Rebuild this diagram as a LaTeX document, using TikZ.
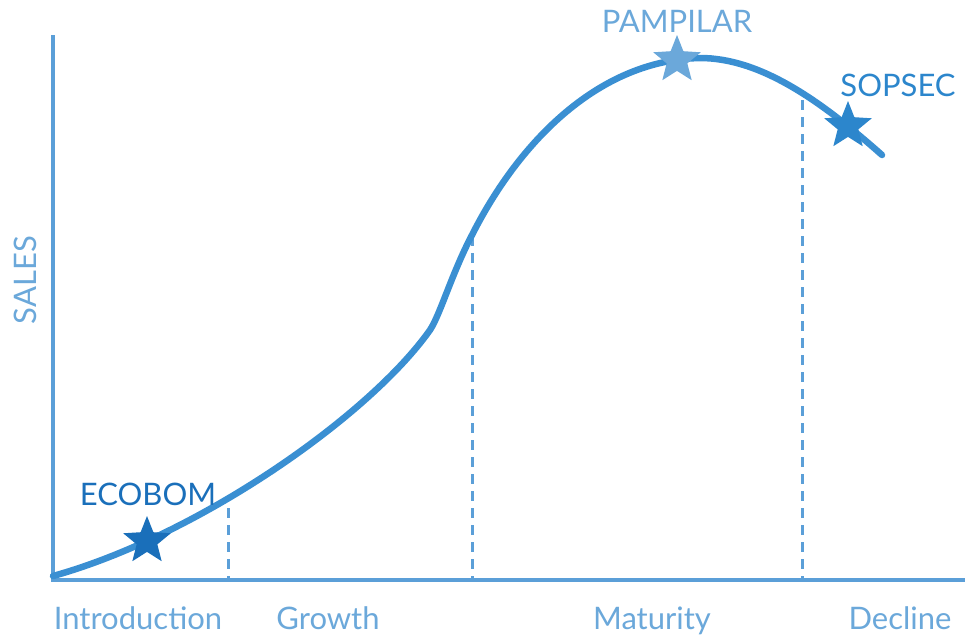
\documentclass[tikz,border=0pt]{standalone}
\usepackage{fontspec}
\setmainfont{Lato}
\usetikzlibrary{shapes.geometric}
\definecolor{axisblue}{HTML}{5B9FD8}
\definecolor{curveblue}{HTML}{3A8FD2}
\definecolor{labblue}{HTML}{6BA8DA}
\definecolor{darkblue}{HTML}{1A6FBA}
\definecolor{midblue}{HTML}{2C86CC}
\tikzset{
  axisline/.style={draw=axisblue, line width=3.2pt},
  guide/.style={draw=axisblue, line width=3pt, dash pattern=on 10pt off 7pt},
  curve/.style={draw=curveblue, line width=6.5pt, line cap=round},
  stage/.style={text=labblue, font=\fontsize{31}{34}\selectfont, inner sep=0pt, anchor=base},
  prod/.style={font=\fontsize{31}{34}\selectfont, inner sep=0pt, anchor=base},
  mark star/.style={star, star points=5, star point ratio=2.3, minimum size=50pt, inner sep=0pt, draw=none}
}
\begin{document}
\begin{tikzpicture}[x=1pt, y=-1pt]
\useasboundingbox (0,0) rectangle (965,638);
% axes
\coordinate (ytop) at (53,35);
\coordinate (origin) at (53,580);
\coordinate (xend) at (965,580);
\draw[axisline] (ytop) -- (origin) -- (xend);
% guides
\coordinate (g1t) at (228,508); \coordinate (g1b) at (228,580);
\coordinate (g2t) at (472,236); \coordinate (g2b) at (472,580);
\coordinate (g3t) at (802,100); \coordinate (g3b) at (802,580);
\draw[guide] (g1t) -- (g1b);
\draw[guide] (g2t) -- (g2b);
\draw[guide] (g3t) -- (g3b);
% curve
\coordinate (c0) at (53,576);
\coordinate (c1) at (430,330);
\coordinate (c2) at (472,235);
\coordinate (c3) at (700,58);
\coordinate (c4) at (882,155);
\draw[curve] (c0) .. controls (200,535) and (370,415) .. (c1)
  .. controls (440,315) and (452,273) .. (c2)
  .. controls (520,140) and (600,60) .. (c3)
  .. controls (760,58) and (820,100) .. (c4);
% stars
\node[mark star, fill=darkblue] (s1) at (147,541) {};
\node[mark star, fill=labblue] (s2) at (677,60) {};
\node[mark star, fill=midblue] (s3) at (848,126) {};
% product labels
\node[prod, text=darkblue] (ecobom) at (148,505) {ECOBOM};
\node[prod, text=labblue] (pampilar) at (677,32) {PAMPILAR};
\node[prod, text=midblue] (sopsec) at (898,96) {SOPSEC};
% stage labels
\node[stage] (intro) at (138,629) {Introduction};
\node[stage] (growth) at (328,629) {Growth};
\node[stage] (mat) at (652,629) {Maturity};
\node[stage] (decl) at (900,629) {Decline};
\node[stage, rotate=90, anchor=center] (sales) at (25,280) {SALES};
\end{tikzpicture}
\end{document}
